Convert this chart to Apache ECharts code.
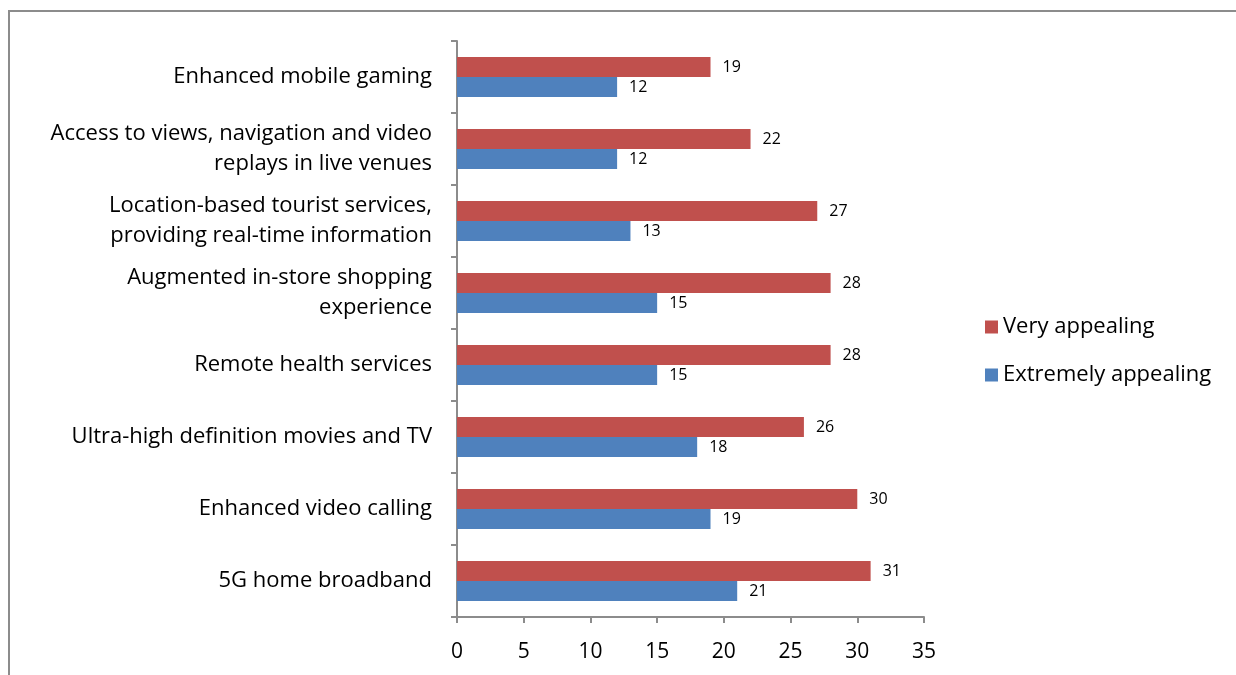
<!DOCTYPE html>
<html>
<head>
<meta charset="utf-8">
<script src="https://cdn.jsdelivr.net/npm/echarts@6/dist/echarts.min.js"></script>
<style>
  html, body { margin: 0; padding: 0; background: #fff; }
  #chart { width: 1236px; height: 675px; }
</style>
</head>
<body>
<div id="chart"></div>
<script>
// categories from bottom to top
var categories = [
    '5G home broadband',
    'Enhanced video calling',
    'Ultra-high definition movies and TV',
    'Remote health services',
    'Augmented in-store shopping\nexperience',
    'Location-based tourist services,\nproviding real-time information',
    'Access to views, navigation and video\nreplays in live venues',
    'Enhanced mobile gaming'
];
var veryAppealing = [31, 30, 26, 28, 28, 27, 22, 19];
var extremelyAppealing = [21, 19, 18, 15, 15, 13, 12, 12];
var xTicks = { min: 0, max: 35, interval: 5 };

var chartDom = document.getElementById('chart');
var myChart = echarts.init(chartDom);
var option;

var fontName = 'Open Sans';

option = {
    animation: false,
    textStyle: { fontFamily: fontName },
    graphic: [
        {
            type: 'rect',
            shape: { x: 9, y: 11, width: 1300, height: 700 },
            style: { fill: 'none', stroke: '#8c8c8c', lineWidth: 2 },
            silent: true
        }
    ],
    legend: {
        orient: 'vertical',
        left: 980,
        top: 311,
        itemWidth: 13,
        itemHeight: 13,
        itemGap: 26,
        icon: 'rect',
        textStyle: { fontSize: 22, color: '#000', fontFamily: fontName },
        data: ['Very appealing', 'Extremely appealing']
    },
    grid: {
        left: 457,
        right: 312,
        top: 41,
        bottom: 58,
        containLabel: false
    },
    xAxis: {
        type: 'value',
        min: xTicks.min,
        max: xTicks.max,
        interval: xTicks.interval,
        axisLine: { show: true, lineStyle: { color: '#8c8c8c', width: 2 } },
        axisTick: { show: true, length: 6, lineStyle: { color: '#8c8c8c', width: 2 } },
        splitLine: { show: false },
        axisLabel: { fontSize: 21, color: '#000', margin: 25, fontFamily: fontName }
    },
    yAxis: {
        type: 'category',
        data: categories,
        axisLine: { show: true, lineStyle: { color: '#8c8c8c', width: 2 } },
        axisTick: { show: true, length: 6, lineStyle: { color: '#8c8c8c', width: 2 } },
        axisLabel: {
            fontSize: 22,
            color: '#000',
            margin: 25,
            lineHeight: 30,
            align: 'right',
            fontFamily: fontName
        }
    },
    series: [
        {
            name: 'Very appealing',
            type: 'bar',
            data: veryAppealing,
            barWidth: 20,
            barGap: '0%',
            itemStyle: { color: '#c0504d' },
            label: {
                show: true,
                position: 'right',
                distance: 12,
                fontSize: 16,
                color: '#000',
                fontFamily: fontName
            }
        },
        {
            name: 'Extremely appealing',
            type: 'bar',
            data: extremelyAppealing,
            barWidth: 20,
            barGap: '0%',
            itemStyle: { color: '#4f81bd' },
            label: {
                show: true,
                position: 'right',
                distance: 12,
                fontSize: 16,
                color: '#000',
                fontFamily: fontName
            }
        }
    ]
};

option && myChart.setOption(option);
</script>
</body>
</html>
